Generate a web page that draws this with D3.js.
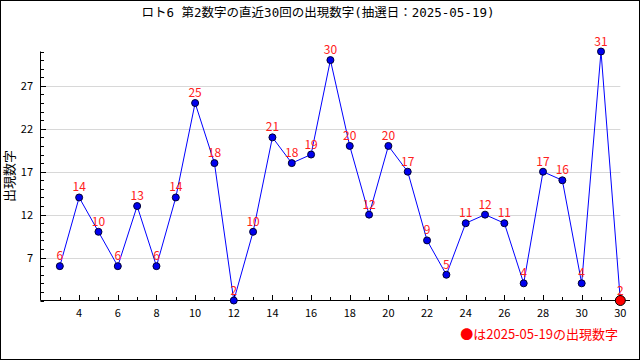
<!DOCTYPE html>
<html><head><meta charset="utf-8">
<script src="https://cdn.jsdelivr.net/npm/d3@7"></script>
<style>body{margin:0;background:#fff}svg{display:block}text{font-family:"Noto Sans CJK JP",sans-serif}</style>
</head><body>
<script>
const title = "ロト6 第2数字の直近30回の出現数字(抽選日：2025-05-19)";
const yLabel = "出現数字";
const legendText = "●は2025-05-19の出現数字";
const values = [6,14,10,6,13,6,14,25,18,2,10,21,18,19,30,20,12,20,17,9,5,11,12,11,4,17,16,4,31,2];
const xTickPos = [2,4,6,8,10,12,14,16,18,20,22,24,26,28,30];
const xTickLabels = ["4","6","8","10","12","14","16","18","20","22","24","26","28","30","30"];
const yTicks = [7,12,17,22,27];
const yMinor = [2,3,4,5,6,7,8,9,10,11,12,13,14,15,16,17,18,19,20,21,22,23,24,25,26,27,28,29,30,31];

const W=640,H=360;
const svg=d3.select("body").append("svg").attr("width",W).attr("height",H);
svg.append("rect").attr("x",0.5).attr("y",0.5).attr("width",W-1).attr("height",H-1).attr("fill","#fff").attr("stroke","#000");

const x=d3.scaleLinear().domain([0,30.5]).range([40.5,630]);
const y=d3.scaleLinear().domain([2,31]).range([300.5,51.5]);

// gridlines
svg.append("g").selectAll("line").data(yTicks).join("line")
  .attr("x1",43).attr("x2",x(30)).attr("y1",d=>Math.round(y(d))+0.5).attr("y2",d=>Math.round(y(d))+0.5)
  .attr("stroke","#d8d8d8");

// y axis
svg.append("line").attr("x1",40.5).attr("x2",40.5).attr("y1",y(31)).attr("y2",y(2)).attr("stroke","#000");
svg.append("g").selectAll("line").data(yMinor).join("line")
  .attr("x1",40.5).attr("x2",d=>yTicks.includes(d)?46:44)
  .attr("y1",d=>Math.round(y(d))+0.5).attr("y2",d=>Math.round(y(d))+0.5).attr("stroke","#000");
svg.append("g").selectAll("text").data(yTicks).join("text")
  .attr("x",33).attr("y",d=>y(d)+4).attr("text-anchor","end").attr("font-size",11).text(d=>d);

// x axis
svg.append("line").attr("x1",40.5).attr("x2",630).attr("y1",300.5).attr("y2",300.5).attr("stroke","#000");
svg.append("g").selectAll("line").data(values.map((v,i)=>i+1)).join("line")
  .attr("x1",d=>Math.round(x(d))+0.5).attr("x2",d=>Math.round(x(d))+0.5)
  .attr("y1",300.5).attr("y2",d=>xTickPos.includes(d)?295:297).attr("stroke","#000");
svg.append("g").selectAll("text").data(xTickPos).join("text")
  .attr("x",d=>x(d)).attr("y",317).attr("text-anchor","middle").attr("font-size",11)
  .text((d,i)=>xTickLabels[i]);

// line
svg.append("path").datum(values).attr("fill","none").attr("stroke","#0000ff").attr("stroke-width",1)
  .attr("d",d3.line().x((d,i)=>x(i+1)).y(d=>y(d)));

// points
const last=values.length-1;
svg.append("g").selectAll("circle").data(values).join("circle")
  .attr("cx",(d,i)=>x(i+1)).attr("cy",d=>y(d))
  .attr("r",(d,i)=>i===last?5:3.5)
  .attr("fill",(d,i)=>i===last?"#ff0000":"#0000ee")
  .attr("stroke",(d,i)=>i===last?"#000":"#000033").attr("stroke-width",1);

// value labels
svg.append("g").selectAll("text").data(values).join("text")
  .attr("x",(d,i)=>x(i+1)).attr("y",d=>y(d)-6).attr("text-anchor","middle")
  .attr("font-size",12).attr("fill","#ff2020").text(d=>d);

// title
svg.append("text").attr("x",318).attr("y",17).attr("text-anchor","middle").attr("font-size",12.5)
  .style("font-family","'DejaVu Sans Mono','Noto Sans CJK JP',monospace").text(title);
// y label
svg.append("text").attr("transform","translate(13.5,176) rotate(-90)").attr("text-anchor","middle").attr("font-size",13).text(yLabel);
// legend
svg.append("text").attr("x",618).attr("y",339).attr("text-anchor","end").attr("font-size",13).attr("fill","#ff0000").text(legendText);
</script>
</body></html>
